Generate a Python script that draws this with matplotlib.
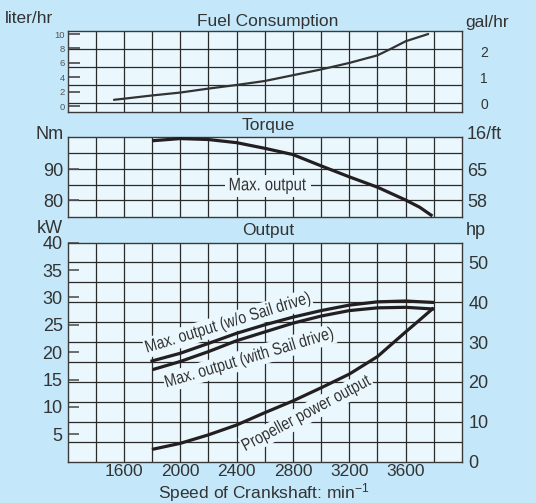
import matplotlib
matplotlib.use('Agg')
import matplotlib.pyplot as plt
from matplotlib.textpath import TextPath
from matplotlib.patches import PathPatch
from matplotlib.path import Path
from matplotlib.font_manager import FontProperties
from matplotlib.transforms import Affine2D, ScaledTranslation

# ---------------- data ----------------
grid_rpm = [1400, 1600, 1800, 2000, 2200, 2400, 2600, 2800, 3000, 3200, 3400, 3600, 3800]
label_rpm = [1600, 2000, 2400, 2800, 3200, 3600]

# Fuel consumption (liter/hr)
rpm_fuel = [1530, 1600, 1800, 2000, 2200, 2400, 2600, 2800, 3000, 3200, 3400, 3500, 3600, 3760]
fuel_l = [0.9, 1.05, 1.5, 1.9, 2.45, 2.95, 3.5, 4.3, 5.1, 6.0, 7.05, 8.0, 9.0, 10.0]
fuel_ticks_l = [0, 2, 4, 6, 8, 10]
fuel_grid_l = [0.5, 2.91, 5.40, 7.89]
fuel_gal_pos_l = [0.32, 3.99, 7.65]
fuel_gal_labels = ['0', '1', '2']

# Torque (Nm)
rpm_torque = [1800, 2000, 2200, 2400, 2600, 2800, 3000, 3200, 3400, 3600, 3700, 3790]
torque_nm = [99.0, 99.7, 99.4, 98.4, 96.6, 94.6, 91.0, 87.5, 84.2, 80.1, 77.8, 75.0]
torque_ticks = [80, 90]
torque_grid = [80, 85, 90, 95]
torque_right_pos = [90, 80]
torque_right_labels = ['65', '58']

# Output (kW)
rpm_wo = [1800, 2000, 2200, 2400, 2600, 2800, 3000, 3200, 3400, 3600, 3790]
kw_wo = [18.4, 19.8, 21.6, 23.45, 25.0, 26.4, 27.6, 28.6, 29.2, 29.35, 29.1]
rpm_with = [1815, 2000, 2200, 2400, 2600, 2800, 3000, 3200, 3400, 3600, 3790]
kw_with = [16.9, 18.3, 20.1, 22.1, 23.7, 25.3, 26.6, 27.6, 28.1, 28.2, 27.9]
rpm_prop = [1810, 2000, 2200, 2400, 2600, 2800, 3000, 3200, 3400, 3600, 3700, 3790]
kw_prop = [2.3, 3.35, 4.9, 6.7, 8.95, 11.1, 13.5, 16.0, 19.2, 23.7, 25.9, 27.9]
kw_ticks = [5, 10, 15, 20, 25, 30, 35, 40]
hp_ticks = [0, 10, 20, 30, 40, 50]
hp_grid = [5, 10, 15, 20, 25, 30, 35, 40, 45, 50]
HP_PER_KW = 1.3725

# ---------------- style ----------------
plt.rcParams['font.family'] = ['Liberation Sans', 'DejaVu Sans']
plt.rcParams['mathtext.fontset'] = 'custom'
plt.rcParams['mathtext.rm'] = 'Liberation Sans'
plt.rcParams['mathtext.it'] = 'Liberation Sans:italic'
plt.rcParams['mathtext.bf'] = 'Liberation Sans:bold'
FP = FontProperties(family='Liberation Sans')

OUTER = '#c4e8f9'
INNER = '#eaf7fd'
INK = '#231f20'
TXT = '#333333'
GRID = '#2a2a2a'

W, H = 536, 503
fig = plt.figure(figsize=(W / 100, H / 100), dpi=100, facecolor=OUTER)


def axes_px(left, top, right, bottom):
    return fig.add_axes([left / W, 1 - bottom / H, (right - left) / W, (bottom - top) / H])


def ftext(x, y, s, **kw):
    kw.setdefault('color', TXT)
    kw.setdefault('va', 'baseline')
    fig.text(x / W, 1 - y / H, s, **kw)


def narrow_text(ax, x, y, s, size_pt, angle=0.0, squeeze=0.82, padx=2.0, pady=2.0):
    """Condensed text drawn as a path, centred on data point (x, y)."""
    size_px = size_pt * fig.dpi / 72.0
    tp = TextPath((0, 0), s, size=size_px, prop=FP)
    bb = tp.get_extents()
    cx, cy = (bb.x0 + bb.x1) / 2.0, (bb.y0 + bb.y1) / 2.0
    tr = (Affine2D().translate(-cx, -cy).scale(squeeze, 1.0).rotate_deg(angle)
          + ScaledTranslation(x, y, ax.transData))
    px = padx / squeeze
    box = Path([(bb.x0 - px, bb.y0 - pady), (bb.x1 + px, bb.y0 - pady),
                (bb.x1 + px, bb.y1 + pady), (bb.x0 - px, bb.y1 + pady),
                (bb.x0 - px, bb.y0 - pady)], closed=True)
    ax.add_patch(PathPatch(box, transform=tr, fc=INNER, ec='none', zorder=3))
    ax.add_patch(PathPatch(tp, transform=tr, fc=TXT, ec='none', lw=0, zorder=3.5))


def base(ax, ylim, hgrid):
    ax.set_facecolor(INNER)
    ax.set_xlim(1200, 4000)
    ax.set_ylim(*ylim)
    ax.set_autoscale_on(False)
    for r in grid_rpm:
        ax.axvline(r, color=GRID, lw=0.9, zorder=1)
    for g in hgrid:
        ax.axhline(g, color=GRID, lw=0.9, zorder=1)
    for s in ax.spines.values():
        s.set_color('#3a3a3a')
        s.set_linewidth(1.0)
    ax.tick_params(axis='x', length=0, labelbottom=False)


def right_axis(ax, lim, pos, labels, size, pad):
    t = ax.twinx()
    t.set_ylim(*lim)
    t.set_yticks(pos, labels=labels)
    t.tick_params(axis='y', length=0, labelsize=size, labelcolor=TXT, pad=pad)
    for s in t.spines.values():
        s.set_visible(False)
    return t


L, R = 67.5, 462.0

# ---- Fuel ----
ax1 = axes_px(L, 30.7, R, 112.3)
base(ax1, (-0.83, 10.46), fuel_grid_l)
ax1.plot(rpm_fuel, fuel_l, color='#333333', lw=1.6, solid_capstyle='round', zorder=4)
ax1.set_yticks(fuel_ticks_l)
ax1.tick_params(axis='y', direction='in', length=8.3, width=1.3, color='#555555',
                labelsize=6.8, labelcolor='#555555', pad=2)
right_axis(ax1, ax1.get_ylim(), fuel_gal_pos_l, fuel_gal_labels, 10, 13)

# ---- Torque ----
ax2 = axes_px(L, 136.7, R, 217.3)
base(ax2, (74.6, 100.3), torque_grid)
ax2.plot(rpm_torque, torque_nm, color=INK, lw=2.3, solid_capstyle='butt', zorder=4)
ax2.set_yticks(torque_ticks)
ax2.tick_params(axis='y', direction='in', length=8, width=1.2, color='#555555',
                labelsize=13, labelcolor=TXT, pad=3)
narrow_text(ax2, 2622, 84.6, 'Max. output', 13, 0, padx=5, pady=3)
right_axis(ax2, ax2.get_ylim(), torque_right_pos, torque_right_labels, 13, 3.5)

# ---- Output ----
ax3 = axes_px(L, 242.7, R, 461.7)
base(ax3, (0, 40), [h / HP_PER_KW for h in hp_grid])
ax3.plot(rpm_wo, kw_wo, color=INK, lw=2.3, zorder=4)
ax3.plot(rpm_with, kw_with, color=INK, lw=2.3, zorder=4)
ax3.plot(rpm_prop, kw_prop, color=INK, lw=2.3, zorder=4)
ax3.set_yticks(kw_ticks)
ax3.tick_params(axis='y', direction='in', length=8, width=1.2, color='#555555',
                labelsize=13, labelcolor=TXT, pad=3.5)
ax3.set_xticks(label_rpm)
ax3.tick_params(axis='x', length=0, labelbottom=True, labelsize=12.5, labelcolor=TXT, pad=1.5)
narrow_text(ax3, 2340, 25.3, 'Max. output (w/o Sail drive)', 12.5, 17.0)
narrow_text(ax3, 2491, 18.9, 'Max. output (with Sail drive)', 12.5, 16.5)
narrow_text(ax3, 2898, 8.8, 'Propeller power output', 12.5, 28.0)
right_axis(ax3, (0, 40 * HP_PER_KW), hp_ticks, [str(h) for h in hp_ticks], 13, 4.5)

# ---- texts ----
ftext(5, 23.2, 'liter/hr', ha='left', fontsize=12.5)
ftext(267.7, 26.3, 'Fuel Consumption', ha='center', fontsize=12.5)
ftext(465.6, 27.4, 'gal/hr', ha='left', fontsize=12.5)
ftext(63.2, 139, 'Nm', ha='right', fontsize=13)
ftext(268, 130.5, 'Torque', ha='center', fontsize=12.5)
ftext(466.7, 139, '16/ft', ha='left', fontsize=13)
ftext(62.7, 232.5, 'kW', ha='right', fontsize=13)
ftext(268, 235, 'Output', ha='center', fontsize=12.5)
ftext(465.6, 235, 'hp', ha='left', fontsize=13)
ftext(264, 498.5, 'Speed of Crankshaft: min$^{-1}$', ha='center', fontsize=12.5)

fig.savefig('out.png', dpi=100, facecolor=OUTER)
